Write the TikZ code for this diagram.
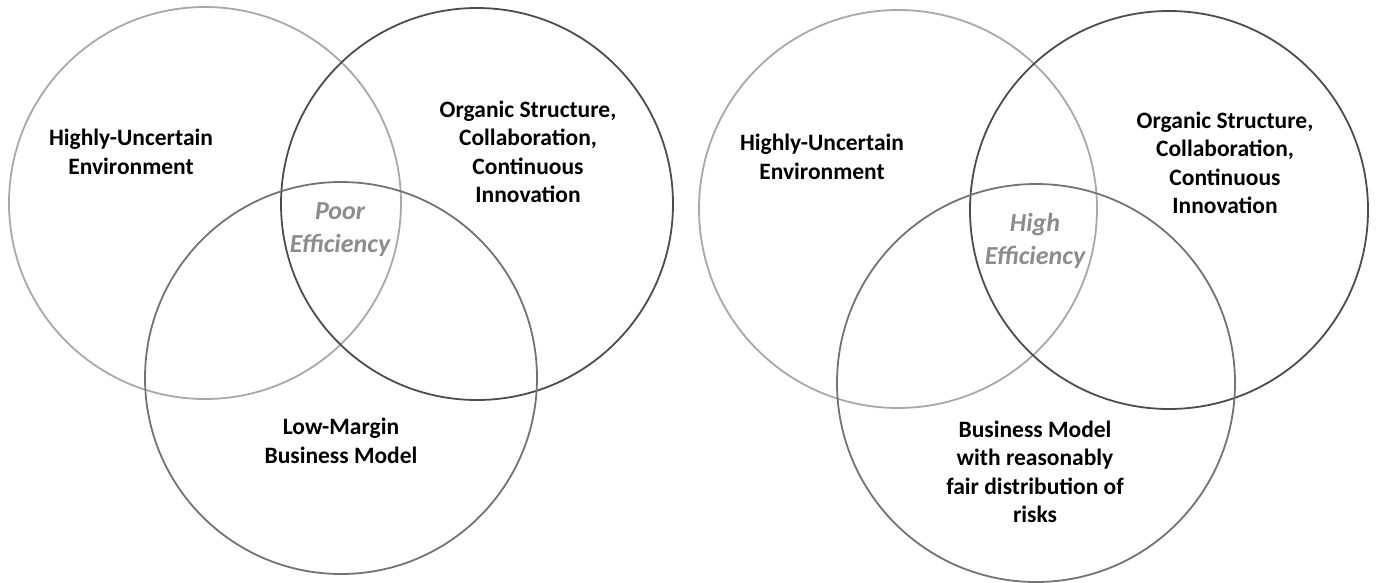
\documentclass[tikz,border=0pt]{standalone}
\usepackage{fontspec}
\setmainfont{Carlito}
\usetikzlibrary{positioning}
\definecolor{grisclaro}{gray}{0.66}
\definecolor{grismedio}{gray}{0.45}
\definecolor{grisoscuro}{gray}{0.3}
\definecolor{grisletra}{gray}{0.55}
\tikzset{
	circulo/.style={circle, draw=#1, line width=1.8pt, inner sep=0pt},
	etiqueta/.style={align=center, text=black, font=\bfseries\fontsize{23.5}{28.5}\selectfont},
	eficiencia/.style={align=center, text=grisletra, font=\bfseries\itshape\fontsize{26}{33}\selectfont}
}
\begin{document}
\begin{tikzpicture}[x=1pt, y=-1pt]
	\useasboundingbox (0,0) rectangle (1378,582);
	% Circulos izquierda
		\node[circulo=grisclaro, minimum size=392pt] (incI) at (205,203) {};
		\node[circulo=grisoscuro, minimum size=392pt] (orgI) at (477,204) {};
		\node[circulo=grismedio, minimum size=392pt] (negI) at (341,378) {};
	
	% Circulos derecha
		\node[circulo=grisclaro, minimum size=398pt] (incD) at (898,209) {};
		\node[circulo=grisoscuro, minimum size=398pt] (orgD) at (1169,210) {};
		\node[circulo=grismedio, minimum size=398pt] (negD) at (1036,383) {};
	
	% Textos izquierda
		\node[etiqueta] (tincI) at (131,152) {Highly-Uncertain\\Environment};
		\node[etiqueta] (torgI) at (528,152) {Organic Structure,\\Collaboration,\\Continuous\\Innovation};
		\node[etiqueta] (tnegI) at (341,441) {Low-Margin\\Business Model};
		\node[eficiencia] (efiI) at (340,230) {Poor\\Efficiency};
	
	% Textos derecha
		\node[etiqueta] (tincD) at (822,157) {Highly-Uncertain\\Environment};
		\node[etiqueta] (torgD) at (1225,163) {Organic Structure,\\Collaboration,\\Continuous\\Innovation};
		\node[etiqueta] (tnegD) at (1035,472) {Business Model\\with reasonably\\fair distribution of\\risks};
		\node[eficiencia] (efiD) at (1035,241) {High\\Efficiency};
\end{tikzpicture}
\end{document}
